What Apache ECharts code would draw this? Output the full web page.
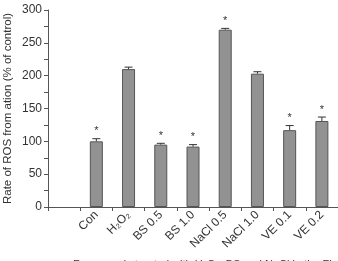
<!DOCTYPE html>
<html>
<head>
<meta charset="utf-8">
<script src="https://cdn.jsdelivr.net/npm/echarts@6/dist/echarts.min.js"></script>
<style>
  html, body { margin: 0; padding: 0; background: #fff; }
  #chart { width: 338px; height: 261px; }
</style>
</head>
<body>
<div id="chart"></div>
<script>
var categories = ['', 'Con', 'H\u2082O\u2082', 'BS 0.5', 'BS 1.0', 'NaCl 0.5', 'NaCl 1.0', 'VE 0.1', 'VE 0.2'];
var values = [null, 100, 210, 95, 92, 270, 203, 117, 131];
var errors = [null, 4, 3, 2, 3, 2, 3, 7, 6];
var significant = [false, true, false, true, true, true, false, true, true];
var yTicks = [0, 50, 100, 150, 200, 250, 300];

var myChart = echarts.init(document.getElementById('chart'));

var errData = [];
for (var i = 0; i < values.length; i++) {
    if (values[i] != null) errData.push([i, values[i], errors[i], significant[i] ? 1 : 0]);
}

var option = {
    animation: false,
    grid: { left: 48, right: 0, top: 10, bottom: 54, outerBoundsMode: 'none', containLabel: false },
    xAxis: {
        type: 'category',
        data: categories,
        axisLine: { lineStyle: { color: '#555', width: 1 } },
        axisTick: { show: true, length: 4, lineStyle: { color: '#555' } },
        axisLabel: {
            rotate: 45, interval: 0, margin: 6,
            fontFamily: 'Liberation Sans, Arial', fontSize: 12, color: '#333'
        }
    },
    yAxis: {
        type: 'value',
        min: yTicks[0], max: yTicks[yTicks.length - 1], interval: 50,
        name: 'Rate of ROS from ation (% of control)',
        nameLocation: 'middle', nameGap: 34, nameMoveOverlap: false,
        nameTextStyle: { fontFamily: 'Liberation Sans, Arial', fontSize: 11.5, color: '#333' },
        axisLine: { show: true, lineStyle: { color: '#555' } },
        axisTick: { show: true, length: 4, lineStyle: { color: '#555' } },
        minorTick: { show: true, splitNumber: 2, length: 4, lineStyle: { color: '#555' } },
        splitLine: { show: false },
        axisLabel: { fontFamily: 'Liberation Sans, Arial', fontSize: 12, color: '#333', margin: 6 }
    },
    series: [
        {
            type: 'bar',
            data: values,
            barWidth: 13,
            itemStyle: { color: '#929292', borderColor: '#555', borderWidth: 1 }
        },
        {
            type: 'custom',
            data: errData,
            renderItem: function (params, api) {
                var x = api.coord([api.value(0), 0])[0];
                var top = api.coord([api.value(0), api.value(1) + api.value(2)]);
                var base = api.coord([api.value(0), api.value(1)]);
                var children = [
                    { type: 'line', shape: { x1: x, y1: base[1], x2: x, y2: top[1] }, style: { stroke: '#333', lineWidth: 1 } },
                    { type: 'line', shape: { x1: x - 4, y1: top[1], x2: x + 4, y2: top[1] }, style: { stroke: '#333', lineWidth: 1 } }
                ];
                if (api.value(3)) {
                    children.push({
                        type: 'text',
                        style: { text: '*', x: x, y: top[1] - 2, align: 'center', verticalAlign: 'bottom',
                                 fontSize: 11, fontFamily: 'Liberation Sans, Arial', fill: '#333' }
                    });
                }
                return { type: 'group', children: children };
            },
            z: 5
        }
    ],
    graphic: [{
        type: 'text', left: 73, top: 259,
        style: { text: 'Rape seeds treated with H\u2082O\u2082, BS and NaCl in the Fig', fontSize: 11,
                 fontFamily: 'Liberation Sans, Arial', fill: '#333' }
    }]
};

option && myChart.setOption(option);
</script>
</body>
</html>
